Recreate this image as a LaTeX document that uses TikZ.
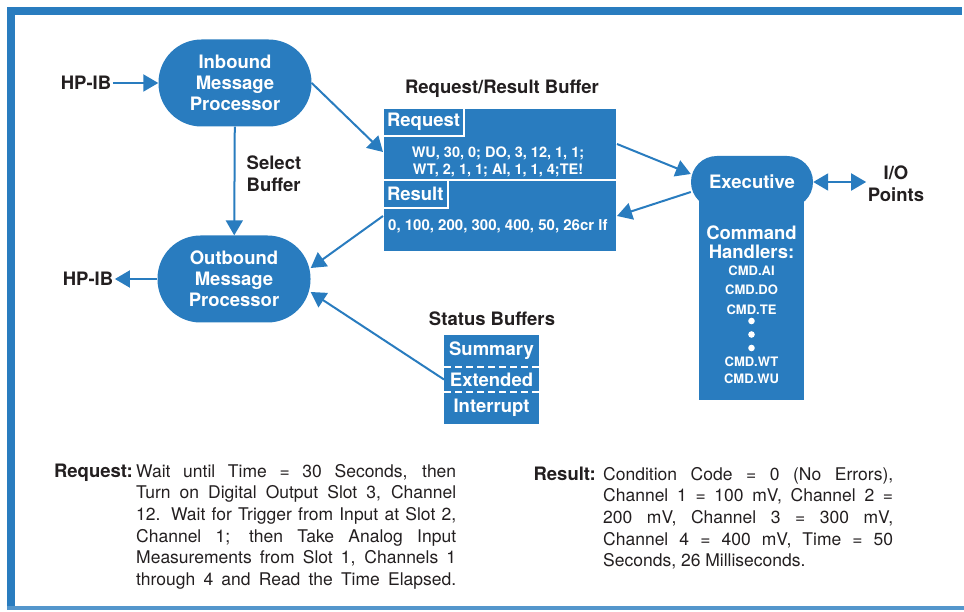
\documentclass[tikz,border=0pt]{standalone}
\usepackage{fontspec}
\setmainfont{TeX Gyre Heros}
\usetikzlibrary{arrows.meta,positioning}
\definecolor{hpblue}{RGB}{41,124,191}
\definecolor{ink}{RGB}{35,31,32}
\newcommand{\fsz}[2]{\fontsize{#1}{#2}\selectfont}

\tikzset{
	proc/.style={fill=hpblue, rounded corners=43pt, minimum width=153pt, minimum height=87pt, inner sep=0pt, text=white, align=center, font=\bfseries\fsz{18.5}{21}},
	exec/.style={fill=hpblue, rounded corners=25.9pt, minimum width=122pt, minimum height=52pt, inner sep=0pt, text=white, font=\bfseries\fsz{18.5}{21}},
	lbl/.style={text=ink, align=center, inner sep=1.5pt, font=\bfseries\fsz{18.5}{22}},
	arr/.style={draw=hpblue, line width=2pt, -{Triangle[length=15pt,width=17pt]}},
	arrboth/.style={draw=hpblue, line width=2pt, {Triangle[length=15pt,width=17pt]}-{Triangle[length=15pt,width=17pt]}},
	bufpart/.style={fill=hpblue, draw=white, line width=2pt, outer sep=0pt, minimum width=234pt, minimum height=72pt, inner sep=0pt},
	tag/.style={fill=hpblue, draw=white, line width=2pt, outer sep=0pt, text=white, font=\bfseries\fsz{18.5}{21}, inner xsep=4pt, inner ysep=0pt, minimum height=28pt, anchor=north west},
	bodytxt/.style={text=white, inner sep=0pt, font=\bfseries\fsz{14.5}{16.5}},
	stat/.style={fill=hpblue, outer sep=0pt, minimum width=95pt, inner sep=0pt, text=white, font=\bfseries\fsz{18.5}{21}},
	sep/.style={draw=white, line width=2pt, dash pattern=on 7pt off 4pt},
	cmd/.style={text=white, align=center, inner sep=0pt, font=\bfseries\fsz{13}{19.5}},
	key/.style={text=ink, inner sep=0pt, font=\bfseries\fsz{18.5}{21.6}, anchor=base east},
	note/.style={text=ink, inner sep=0pt, align=justify, anchor=north west, font=\fsz{17.5}{21.6}},
}

\begin{document}
\begin{tikzpicture}[x=1pt,y=-1pt]
	\useasboundingbox (0,0) rectangle (964,612);
	\fill[hpblue] (7,7) rectangle (962,15);
	\fill[hpblue] (7,7) rectangle (15,609);
	\fill[hpblue!80] (7,606) rectangle (964,610);

	\node[proc] (inb) at (235,83) {Inbound\\Message\\Processor};
	\node[proc] (outb) at (234,279) {Outbound\\Message\\Processor};
	\node[lbl] (hpin) at (86,83) {HP-IB};
	\node[lbl] (hpout) at (88,279) {HP-IB};
	\node[lbl, align=left, anchor=west] (sel) at (245,174) {Select\\Buffer};

	\node[lbl] (rrhead) at (502,89) {Request/Result Buffer};
	\node[bufpart] (reqpart) at (500,144) {};
	\node[bufpart, below=0pt of reqpart] (respart) {};
	\node[tag] (reqtag) at (reqpart.north west) {Request};
	\node[tag] (restag) at (respart.north west) {Result};
	\node[bodytxt, align=center] (reqtxt) at (498,162) {WU, 30, 0; DO, 3, 12, 1, 1;\\WT, 2, 1, 1; AI, 1, 1, 4;TE!};
	\node[bodytxt, font=\bfseries\fsz{15}{17}, anchor=west] (restxt) at (388,226) {0, 100, 200, 300, 400, 50, 26cr lf};

	\node[fill=hpblue, minimum width=105pt, minimum height=199pt, inner sep=0pt] (hdl) at (751.5,300) {};
	\node[exec] (exe) at (752,182) {Executive};
	\node[lbl] (io) at (896,184) {I/O\\Points};
	\node[cmd, font=\bfseries\fsz{18.5}{19.5}] (hdlhead) at (751.5,242) {Command\\Handlers:};
	\node[cmd] (cmdtop) at (751.5,290) {CMD.AI\\CMD.DO\\CMD.TE};
	\fill[white] (751.5,321) circle (3.3pt) (751.5,334.5) circle (3.3pt) (751.5,348) circle (3.3pt);
	\node[cmd, font=\bfseries\fsz{13}{17}] (cmdbot) at (751.5,370) {CMD.WT\\CMD.WU};

	\node[lbl] (sthead) at (492,319) {Status Buffers};
	\node[stat, minimum height=32pt] (sum) at (491.5,351) {Summary};
	\node[stat, minimum height=25pt, below=0pt of sum] (ext) {Extended};
	\node[stat, minimum height=32pt, below=0pt of ext] (intr) {Interrupt};
	\draw[sep] (sum.south west) -- (sum.south east);
	\draw[sep] (ext.south west) -- (ext.south east);

	\draw[arr] (hpin) -- (inb);
	\draw[arr] (inb) -- (outb);
	\draw[arr] (inb.east) -- ([yshift=-8pt]reqpart.west);
	\draw[arr] (reqpart.east) -- ([yshift=8pt]exe.west);
	\draw[arr] ([yshift=-10pt]exe.west) -- (respart.east);
	\draw[arr] (respart.west) -- ([yshift=11pt]outb.east);
	\draw[arr] (ext.west) -- ([yshift=-13pt]outb.east);
	\draw[arr] (outb) -- (hpout);
	\draw[arrboth] (exe.east) -- (exe.east -| io.west);

	\node[key] (reqkey) at (133,477) {Request:};
	\node[note, text width=320pt] (reqnote) at (136,464) {\hyphenpenalty=10000\relax\parfillskip=0pt\relax Wait until Time = 30 Seconds, then\linebreak Turn on Digital Output Slot 3, Channel\linebreak 12. Wait for Trigger from Input at Slot 2,\linebreak Channel 1; then Take Analog Input\linebreak Measurements from Slot 1, Channels 1\linebreak through 4 and Read the Time Elapsed.\par};
	\node[key] (reskey) at (596,480) {Result:};
	\node[note, text width=290pt] (resnote) at (603,467) {\hyphenpenalty=10000\relax Condition Code = 0 (No Errors),\linebreak Channel 1 = 100 mV, Channel 2 =\linebreak 200 mV, Channel 3 = 300 mV,\linebreak Channel 4 = 400 mV, Time = 50\linebreak Seconds, 26 Milliseconds.};
\end{tikzpicture}
\end{document}
